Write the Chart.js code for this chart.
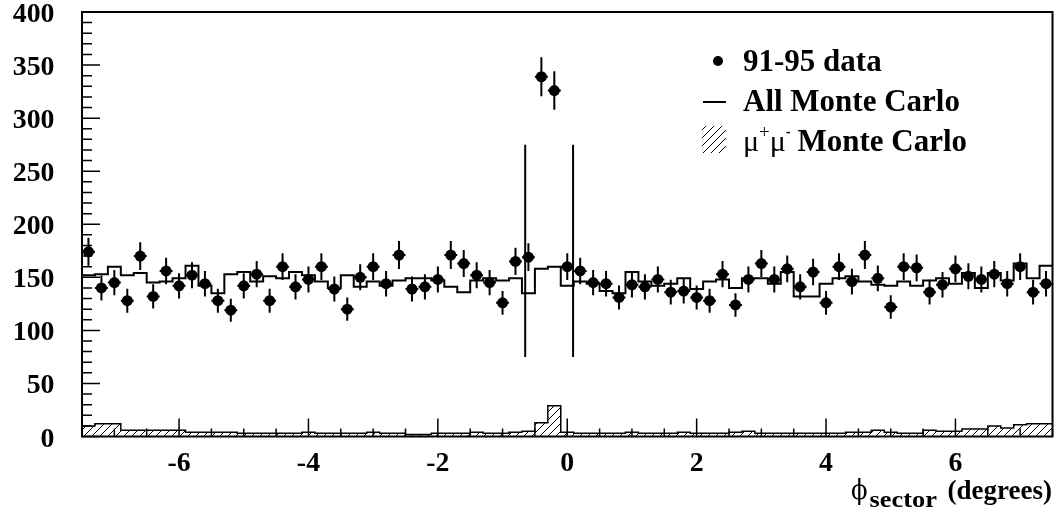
<!DOCTYPE html>
<html><head><meta charset="utf-8">
<script src="https://cdn.jsdelivr.net/npm/chart.js@4/dist/chart.umd.min.js"></script>
<style>html,body{margin:0;padding:0;background:#fff}#wrap{width:1058px;height:517px;position:relative}</style>
</head><body><div id="wrap"><canvas id="c" width="1058" height="517"></canvas></div>
<script>
// ---- data ----
const phiCenters = [-7.4,-7.2,-7.0,-6.8,-6.6,-6.4,-6.2,-6.0,-5.8,-5.6,-5.4,-5.2,-5.0,-4.8,-4.6,-4.4,-4.2,-4.0,-3.8,-3.6,
 -3.4,-3.2,-3.0,-2.8,-2.6,-2.4,-2.2,-2.0,-1.8,-1.6,-1.4,-1.2,-1.0,-0.8,-0.6,-0.4,-0.2,0.0,0.2,0.4,
 0.6,0.8,1.0,1.2,1.4,1.6,1.8,2.0,2.2,2.4,2.6,2.8,3.0,3.2,3.4,3.6,3.8,4.0,4.2,4.4,
 4.6,4.8,5.0,5.2,5.4,5.6,5.8,6.0,6.2,6.4,6.6,6.8,7.0,7.2,7.4];
const binWidth = 0.2;
const dataCounts = [174,140,145,128,170,132,156,142,152,144,
 128,119,142,153,128,160,141,148,160,139,
 120,150,160,144,171,139,141,148,171,163,
 152,145,126,165,169,339,326,160,156,145,
 144,131,143,141,148,136,137,131,128,153,
 124,148,163,148,158,141,155,126,160,146,
 171,149,122,160,159,136,143,158,151,148,
 153,144,160,136,144];
const dataErrors = [13.2,11.8,12.0,11.3,13.0,11.5,12.5,11.9,12.3,12.0,
 11.3,10.9,11.9,12.4,11.3,12.6,11.9,12.2,12.6,11.8,
 11.0,12.2,12.6,12.0,13.1,11.8,11.9,12.2,13.1,12.8,
 12.3,12.0,11.2,12.8,13.0,18.4,18.1,12.6,12.5,12.0,
 12.0,11.4,12.0,11.9,12.2,11.7,11.7,11.4,11.3,12.4,
 11.1,12.2,12.8,12.2,12.6,11.9,12.4,11.2,12.6,12.1,
 13.1,12.2,11.0,12.6,12.6,11.7,12.0,12.6,12.3,12.2,
 12.4,12.0,12.6,11.7,12.0];
const mcAll = [152,153,160,152,154,145,146,149,161,142,
 135,153,155,146,151,149,155,152,146,140,
 152,141,146,142,147,149,149,147,141,136,
 147,149,147,149,135,158,160,142,146,144,
 137,135,155,146,142,144,149,139,146,148,
 140,149,149,144,155,132,132,144,149,151,
 146,143,142,146,142,147,149,144,154,140,
 154,147,163,149,161];
const mcMuMu = [10,12,12,6,6,6,6,6,4,4,
 4,4,3,3,3,3,3,4,3,3,
 3,3,4,3,3,2,2,3,3,3,
 4,3,3,4,5,13,29,4,3,3,
 3,3,4,3,3,3,4,3,3,3,
 4,5,3,3,3,3,3,3,3,4,
 4,6,4,3,3,6,5,5,7,7,
 10,8,11,12,12];
const cutX = [-0.65, 0.09];
const cutRange = [75, 275];
const xRange = [-7.5, 7.5];
const yRange = [0, 400];
const xTickValues = [-6,-4,-2,0,2,4,6];
const xTickLabels = ['-6','-4','-2','0','2','4','6'];
const yTickValues = [0,50,100,150,200,250,300,350,400];
const yTickLabels = ['0','50','100','150','200','250','300','350','400'];
const legendLabels = ['91-95 data','All Monte Carlo','Monte Carlo'];

// ---- helpers ----
const SERIF = '"Liberation Serif","Times New Roman",serif';
function makeHatch(){
  const pc=document.createElement('canvas'); pc.width=8; pc.height=8;
  const p=pc.getContext('2d'); p.strokeStyle='#000'; p.lineWidth=1;
  p.beginPath(); p.moveTo(0,8); p.lineTo(8,0); p.moveTo(-2,2); p.lineTo(2,-2); p.moveTo(6,10); p.lineTo(10,6); p.stroke();
  return document.getElementById('c').getContext('2d').createPattern(pc,'repeat');
}
const hatch = makeHatch();
const edges = phiCenters.map(c => Math.round((c - binWidth/2)*100)/100);
function stepData(vals){
  const d = vals.map((v,i)=>({x:edges[i], y:v}));
  d.push({x:Math.round((phiCenters[phiCenters.length-1]+binWidth/2)*100)/100, y:vals[vals.length-1]});
  return d;
}
function stext(ctx,str,x,y,font,sx,align){
  ctx.save(); ctx.font=font; ctx.textBaseline='alphabetic'; ctx.textAlign='left';
  const w=ctx.measureText(str).width*sx;
  const x0 = align==='right'? x-w : align==='center'? x-w/2 : x;
  ctx.translate(x0,y); ctx.scale(sx,1); ctx.fillStyle='#000'; ctx.fillText(str,0,0); ctx.restore();
  return w;
}

const DATA_IDX = 4;
const errPlugin = {
  id:'errbars',
  beforeDatasetDraw(chart,args){
    if(args.index!==DATA_IDX) return;
    const {ctx, scales:{x,y}} = chart;
    ctx.save(); ctx.strokeStyle='#000'; ctx.lineWidth=2;
    phiCenters.forEach((c,i)=>{
      const px=x.getPixelForValue(c), py=y.getPixelForValue(dataCounts[i]);
      ctx.beginPath();
      ctx.moveTo(px, y.getPixelForValue(dataCounts[i]-dataErrors[i]));
      ctx.lineTo(px, y.getPixelForValue(dataCounts[i]+dataErrors[i]));
      ctx.moveTo(x.getPixelForValue(c-binWidth/2), py);
      ctx.lineTo(x.getPixelForValue(c+binWidth/2), py);
      ctx.stroke();
    });
    ctx.restore();
  }
};
const framePlugin = {
  id:'frame',
  afterDraw(chart){
    const {ctx, chartArea:a, scales:{x,y}} = chart;
    ctx.save(); ctx.strokeStyle='#000';
    // ticks
    ctx.lineWidth=1.5; ctx.beginPath();
    for(let v=-7.5; v<=7.5+1e-9; v+=0.5){
      const px=x.getPixelForValue(v);
      const major = Math.abs(v/2-Math.round(v/2))<1e-6;
      ctx.moveTo(px,a.bottom); ctx.lineTo(px,a.bottom-(major?18:8));
    }
    for(let v=0; v<=400; v+=10){
      const py=y.getPixelForValue(v);
      const major = v%50===0;
      ctx.moveTo(a.left,py); ctx.lineTo(a.left+(major?18:10),py);
    }
    ctx.stroke();
    ctx.lineWidth=2;
    ctx.strokeRect(a.left,a.top,a.right-a.left,a.bottom-a.top);
    // tick labels
    const tf = 'bold 27px '+SERIF;
    yTickValues.forEach((v,i)=>{ stext(ctx,yTickLabels[i],54.5,y.getPixelForValue(v)+10,tf,1.03,'right'); });
    xTickValues.forEach((v,i)=>{ stext(ctx,xTickLabels[i],x.getPixelForValue(v),470.5,tf,1.03,'center'); });
    // axis title
    stext(ctx,'(degrees)',1052,499,'bold 27px '+SERIF,1.0,'right');
    let cx = 851;
    cx += stext(ctx,'\u03D5',cx,499,'27px "DejaVu Serif",'+SERIF,0.9,'left');
    stext(ctx,'sector',cx+2,507,'bold 24px '+SERIF,1.1,'left');
    // legend
    const lf='bold 31px '+SERIF;
    ctx.fillStyle='#000';
    ctx.beginPath(); ctx.arc(718,61,5,0,Math.PI*2); ctx.fill();
    stext(ctx,legendLabels[0],743,71,lf,1,'left');
    ctx.lineWidth=2; ctx.beginPath(); ctx.moveTo(703,102); ctx.lineTo(726,102); ctx.stroke();
    stext(ctx,legendLabels[1],743,111,lf,1,'left');
    ctx.fillStyle=hatch; ctx.fillRect(702,126,24,27);
    let lx=743;
    lx += stext(ctx,'\u03BC',lx,151,'30px '+SERIF,1,'left');
    lx += stext(ctx,'+',lx,138,'19px '+SERIF,1,'left');
    lx += stext(ctx,'\u03BC',lx,151,'30px '+SERIF,1,'left');
    lx += stext(ctx,'-',lx,137,'bold 17px '+SERIF,0.8,'left');
    stext(ctx,legendLabels[2],lx+7,151,lf,1,'left');
    ctx.restore();
  }
};

new Chart(document.getElementById('c'), {
  type:'line',
  data:{ datasets:[
    {label:'mumu', data:stepData(mcMuMu), stepped:true, borderColor:'#000', borderWidth:1.5, fill:'origin', backgroundColor:hatch, pointRadius:0},
    {label:'mc', data:stepData(mcAll), stepped:true, borderColor:'#000', borderWidth:2, fill:false, pointRadius:0},
    {label:'cut1', data:[{x:cutX[0],y:cutRange[0]},{x:cutX[0],y:cutRange[1]}], borderColor:'#000', borderWidth:2, pointRadius:0, fill:false},
    {label:'cut2', data:[{x:cutX[1],y:cutRange[0]},{x:cutX[1],y:cutRange[1]}], borderColor:'#000', borderWidth:2, pointRadius:0, fill:false},
    {label:'data', data:phiCenters.map((c,i)=>({x:c,y:dataCounts[i]})), showLine:false, pointRadius:5.5, pointBackgroundColor:'#000', pointBorderWidth:0, borderColor:'#000'}
  ]},
  options:{
    responsive:false, animation:false, devicePixelRatio:1,
    layout:{padding:{top:12,right:5.5,left:0,bottom:0}},
    plugins:{legend:{display:false}, tooltip:{enabled:false}},
    scales:{
      x:{type:'linear', min:xRange[0], max:xRange[1], ticks:{display:false}, grid:{display:false}, border:{display:false}, afterFit(s){s.height=80.5;}},
      y:{type:'linear', min:yRange[0], max:yRange[1], ticks:{display:false}, grid:{display:false}, border:{display:false}, afterFit(s){s.width=82;}}
    }
  },
  plugins:[errPlugin, framePlugin]
});
</script></body></html>
